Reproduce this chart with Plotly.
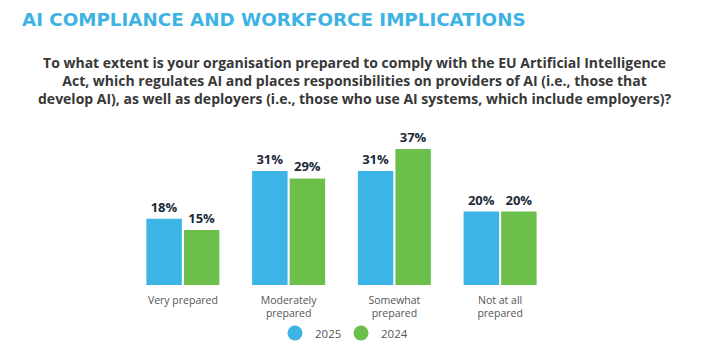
import plotly.graph_objects as go

categories = ["Very prepared", "Moderately<br>prepared", "Somewhat<br>prepared", "Not at all<br>prepared"]
series_names = ["2025", "2024"]
values_2025 = [18, 31, 31, 20]
values_2024 = [15, 29, 37, 20]
colors = ["#3cb4e5", "#6cbf4b"]

W, H = 707, 352
L, R, T, B = 129.5, 153.5, 138, 67
pw, ph = W - L - R, H - T - B

def px_x(x):
    return (x - L) / pw

def px_y(y):
    return (H - B - y) / ph

fig = go.Figure()
for name, vals, col in zip(series_names, [values_2025, values_2024], colors):
    fig.add_trace(go.Bar(
        x=categories, y=vals, name=name, marker_color=col,
        marker_line_width=0,
        text=[f"{v}%" for v in vals], textposition="outside",
        textfont=dict(family="Open Sans", size=13, color="#1c2a3a", weight="bold"),
        cliponaxis=False, showlegend=False, hoverinfo="skip",
    ))
    fig.add_trace(go.Scatter(
        x=[None], y=[None], mode="markers", name=name,
        marker=dict(color=col, size=15, symbol="circle"),
    ))

fig.update_layout(
    width=W, height=H,
    margin=dict(l=L, r=R, t=T, b=B, autoexpand=False),
    paper_bgcolor="white", plot_bgcolor="white",
    barmode="group", bargap=0.29, bargroupgap=0.055,
    title=dict(
        text="<b>AI COMPLIANCE AND WORKFORCE IMPLICATIONS</b>",
        font=dict(family="DejaVu Sans", size=18.3, color="#3db3e3"),
        xref="container", x=22 / W, xanchor="left",
        yref="container", y=1 - 20 / H, yanchor="middle",
    ),
    annotations=[dict(
        text=("<b>To what extent is your organisation prepared to comply with the EU Artificial Intelligence<br>"
              "Act, which regulates AI and places responsibilities on providers of AI (i.e., those that<br>"
              "develop AI), as well as deployers (i.e., those who use AI systems, which include employers)?</b>"),
        xref="paper", yref="paper", x=px_x(354.5), y=px_y(80),
        xanchor="center", yanchor="middle", showarrow=False, align="center",
        font=dict(family="Open Sans", size=14, color="#383838"),
    )],
    legend=dict(
        orientation="h", x=px_x(341), xanchor="center",
        yref="container", y=(H - 333) / H, yanchor="middle",
        bgcolor="rgba(0,0,0,0)",
        font=dict(family="Open Sans", size=11.5, color="#555555"),
        itemwidth=30, entrywidth=21, entrywidthmode="pixels",
    ),
    xaxis=dict(
        showgrid=False, showline=False, zeroline=False, ticks="",
        tickfont=dict(family="Open Sans", size=10.5, color="#555555"),
        ticklabelstandoff=7,
        range=[-0.5, 3.5], fixedrange=True,
    ),
    yaxis=dict(
        range=[0, 40], visible=False, showgrid=False, zeroline=False, fixedrange=True,
    ),
)

fig.write_html("out.html")
